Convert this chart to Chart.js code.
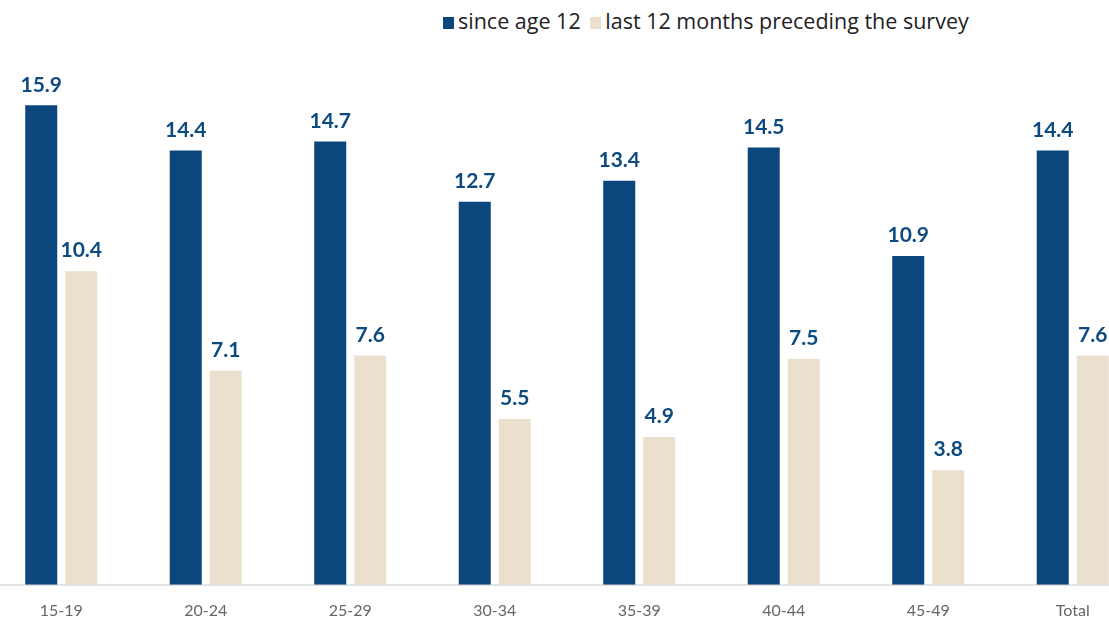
<!DOCTYPE html>
<html>
<head>
<meta charset="utf-8">
<script src="https://cdn.jsdelivr.net/npm/chart.js@4/dist/chart.umd.min.js"></script>
<style>
    html, body { margin: 0; padding: 0; background: #fff; overflow: hidden; }
    body { width: 1109px; height: 619px; position: relative; font-family: Lato, "Open Sans", sans-serif; }
    .leyenda { position: absolute; top: 6px; left: 443px; font-size: 21.5px; font-family: "Open Sans", Lato, sans-serif; color: #222; white-space: nowrap; }
    .leyenda span.cuadro { display: inline-block; width: 11px; height: 12px; margin-right: 4px; vertical-align: 0px; }
    .leyenda .item { margin-right: 4px; }
    .contenedor { position: absolute; left: -11px; top: 0; width: 1156px; height: 636px; }
</style>
</head>
<body>
<div class="leyenda">
    <span class="item"><span class="cuadro" style="background:#0b477d"></span>since age 12</span>
    <span class="item"><span class="cuadro" style="background:#ebdfcd"></span>last 12 months preceding the survey</span>
</div>
<div class="contenedor"><canvas id="grafico"></canvas></div>
<script>
// Datos del gráfico
const categorias = ["15-19", "20-24", "25-29", "30-34", "35-39", "40-44", "45-49", "Total"];
const desdeEdad12 = [15.9, 14.4, 14.7, 12.7, 13.4, 14.5, 10.9, 14.4];
const ultimos12Meses = [10.4, 7.1, 7.6, 5.5, 4.9, 7.5, 3.8, 7.6];
const nombresSeries = ["since age 12", "last 12 months preceding the survey"];

// Etiquetas de valor encima de cada barra
const etiquetasValor = {
    id: "etiquetasValor",
    afterDatasetsDraw(chart) {
        const ctx = chart.ctx;
        ctx.save();
        ctx.font = "bold 21px Lato, 'Open Sans', sans-serif";
        ctx.fillStyle = "#0d4a80";
        ctx.textAlign = "center";
        ctx.textBaseline = "bottom";
        chart.data.datasets.forEach((ds, i) => {
            chart.getDatasetMeta(i).data.forEach((barra, j) => {
                ctx.fillText(ds.data[j].toFixed(1), barra.x, barra.y - 10);
            });
        });
        ctx.restore();
    }
};

new Chart(document.getElementById("grafico"), {
    type: "bar",
    data: {
        labels: categorias,
        datasets: [
            { label: nombresSeries[0], data: desdeEdad12, backgroundColor: "#0b477d" },
            { label: nombresSeries[1], data: ultimos12Meses, backgroundColor: "#ebdfcd" }
        ]
    },
    options: {
        responsive: true,
        maintainAspectRatio: false,
        animation: false,
        categoryPercentage: 0.554,
        barPercentage: 0.8,
        layout: { padding: { top: 42, bottom: 0, left: 0, right: 0 } },
        plugins: {
            legend: { display: false },
            tooltip: { enabled: false }
        },
        scales: {
            x: {
                grid: { display: false, drawTicks: false },
                border: { display: true, color: "#e3e3e3", width: 2 },
                ticks: { color: "#666", font: { size: 16, family: "Lato, 'Open Sans', sans-serif" }, padding: 16 }
            },
            y: {
                display: false,
                min: 0,
                max: 18
            }
        }
    },
    plugins: [etiquetasValor]
});
</script>
</body>
</html>
